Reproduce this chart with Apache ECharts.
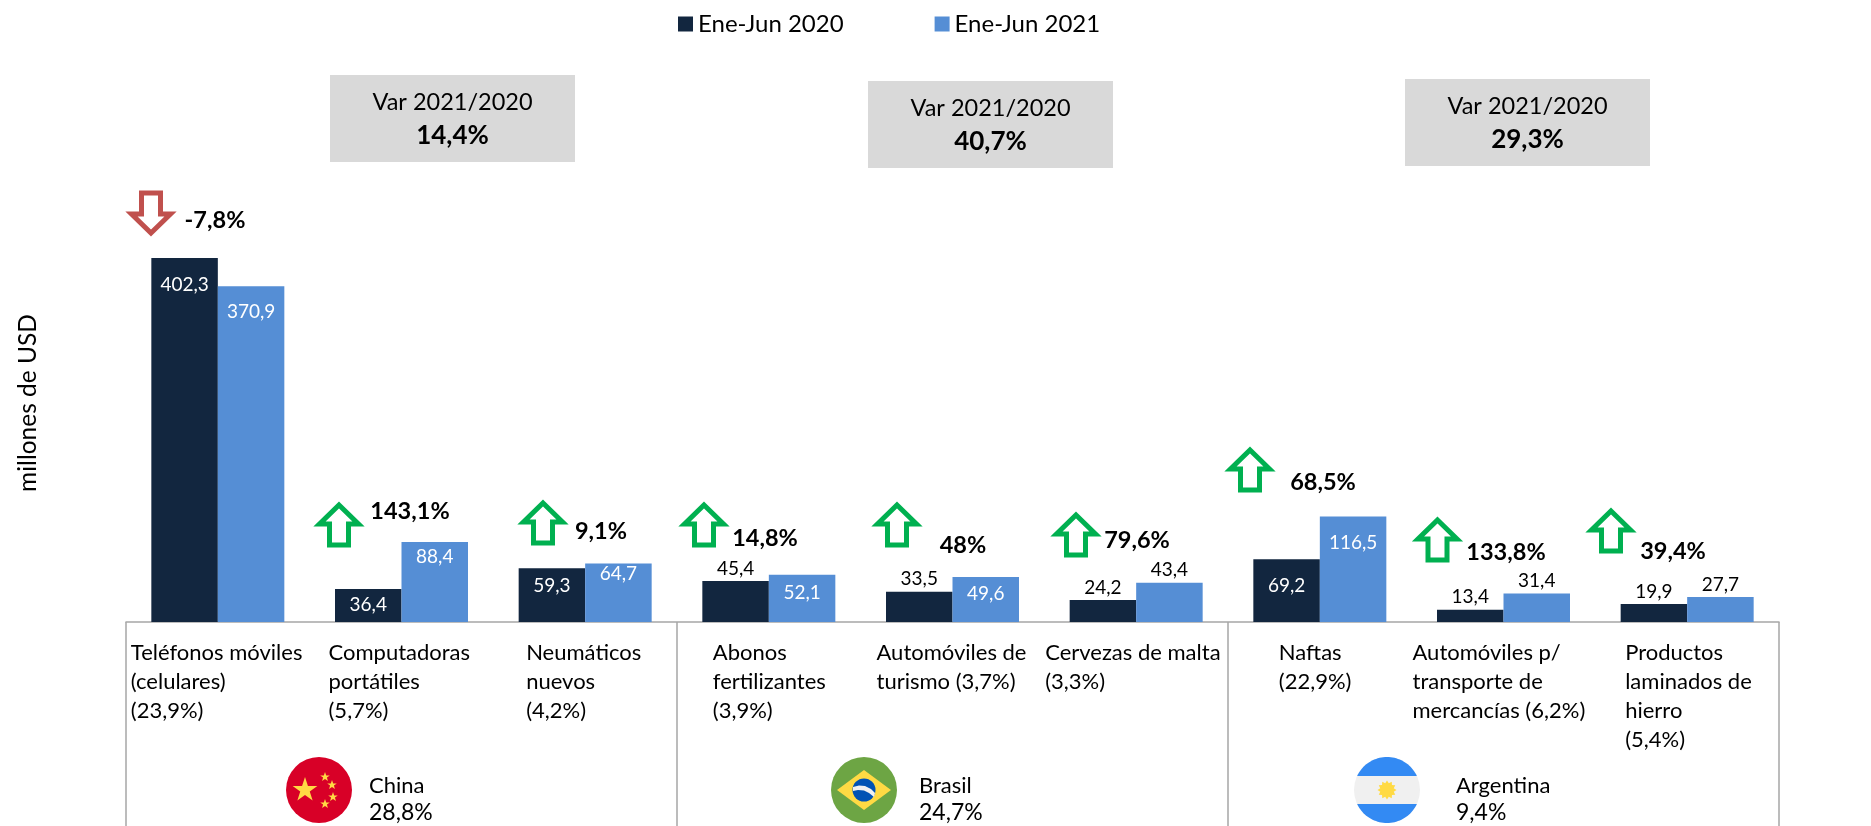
<!DOCTYPE html>
<html><head><meta charset="utf-8">
<style>html,body{margin:0;padding:0;background:#fff;overflow:hidden}#c{width:1871px;height:826px}</style>
<script src="https://cdn.jsdelivr.net/npm/echarts@6/dist/echarts.min.js"></script>
</head><body><div id="c"></div>
<script>
const categories = [
  'Teléfonos móviles\n(celulares)\n(23,9%)',
  'Computadoras\nportátiles\n(5,7%)',
  'Neumáticos\nnuevos\n(4,2%)',
  'Abonos\nfertilizantes\n(3,9%)',
  'Automóviles de\nturismo (3,7%)',
  'Cervezas de malta\n(3,3%)',
  'Naftas\n(22,9%)',
  'Automóviles p/\ntransporte de\nmercancías (6,2%)',
  'Productos\nlaminados de\nhierro\n(5,4%)'
];
const seriesNames = ['Ene-Jun 2020', 'Ene-Jun 2021'];
const values2020 = [402.3, 36.4, 59.3, 45.4, 33.5, 24.2, 69.2, 13.4, 19.9];
const values2021 = [370.9, 88.4, 64.7, 52.1, 49.6, 43.4, 116.5, 31.4, 27.7];
const variationLabels = ['-7,8%', '143,1%', '9,1%', '14,8%', '48%', '79,6%', '68,5%', '133,8%', '39,4%'];
const countries = ['China', 'Brasil', 'Argentina'];
const countryShares = ['28,8%', '24,7%', '9,4%'];
const groupVariation = ['14,4%', '40,7%', '29,3%'];

// --- layout (no data below this line) ---
const COL_DARK = '#12263F', COL_LIGHT = '#558ED5', LINE = '#A6A6A6', FONT = 'Lato';
const labelInset = [ // distance from bar top for labels inside; null = label above the bar
  [17, 6, 8, null, null, null, 17, null, null],
  [16, 5, 1, 9, 7, null, 17, null, null]
];
const catLabelShift = [87, 73, 59, 56, 76, 91, 41, 91, 62];
const arrowPos = [[151,213],[339,525],[543,523],[704,525],[897,525],[1076,535],[1250,470],[1437.5,540],[1611,531]];
const varPos = [[215,220],[410,511],[601,531],[765,538],[963,545],[1137,540],[1323,482],[1506,552],[1673,551]];
const boxPos = [[330,75],[868,81],[1405,79]];
const countryPos = [[369,786],[919,786],[1456,786]];

const fmt = v => v.toFixed(1).replace('.', ',');
const makeData = (vals, inset) => vals.map((v, i) => {
  const inside = inset[i] !== null;
  return { value: v, label: {
    position: inside ? 'insideTop' : 'top',
    distance: inside ? inset[i] : 3,
    color: inside ? '#fff' : '#000'
  }};
});

const rich = {};
catLabelShift.forEach((s, i) => { rich['c' + i] = { width: s * 2, align: 'left', fontSize: 22, lineHeight: 29, color: '#000', fontFamily: FONT }; });

function arrowPoints(cx, cy, up) {
  const w = 19.5, h = 20, hs = 9.5;
  const y = d => cy + (up ? d : -d);
  return [[cx, y(-h)], [cx + w, y(-1)], [cx + hs, y(-1)], [cx + hs, y(h)], [cx - hs, y(h)], [cx - hs, y(-1)], [cx - w, y(-1)]];
}
function starPoints(cx, cy, R, r, n) {
  const pts = [];
  for (let i = 0; i < n * 2; i++) {
    const a = -Math.PI / 2 + i * Math.PI / n, q = i % 2 ? r : R;
    pts.push([cx + q * Math.cos(a), cy + q * Math.sin(a)]);
  }
  return pts;
}
function capPoints(cx, cy, r, dy) { // circular segment beyond |dy| from the centre, sign gives top/bottom
  const a0 = Math.asin(Math.abs(dy) / r), pts = [];
  for (let i = 0; i <= 40; i++) {
    const a = a0 + (Math.PI - 2 * a0) * i / 40;
    pts.push([cx + r * Math.cos(a), cy + Math.sign(dy) * r * Math.sin(a)]);
  }
  return pts;
}
const polyEl = (points, fill, extra) => ({ type: 'polygon', shape: { points }, style: Object.assign({ fill }, extra || {}), silent: true });
const circleEl = (cx, cy, r, fill) => ({ type: 'circle', shape: { cx, cy, r }, style: { fill }, silent: true });
const textEl = (x, y, text, size, weight, align, extra) => Object.assign({ type: 'text', x, y, silent: true,
  style: { text, fontSize: size, fontWeight: weight || 'normal', fontFamily: FONT, fill: '#000', align: align || 'left', verticalAlign: 'middle' } }, extra || {});

const graphics = [];
// y axis title
graphics.push(textEl(28, 403, 'millones de USD', 24.5, 'normal', 'center', { rotation: Math.PI / 2 }));
// group variation boxes
boxPos.forEach((p, i) => {
  graphics.push({ type: 'rect', shape: { x: p[0], y: p[1], width: 245, height: 87 }, style: { fill: '#D9D9D9' }, silent: true });
  graphics.push(textEl(p[0] + 122.5, p[1] + 27, 'Var 2021/2020', 23.5, 'normal', 'center'));
  graphics.push(textEl(p[0] + 122.5, p[1] + 61, groupVariation[i], 26, 'bold', 'center'));
});
// arrows and variation labels
variationLabels.forEach((t, i) => {
  const up = !t.startsWith('-');
  graphics.push(polyEl(arrowPoints(arrowPos[i][0], arrowPos[i][1], up), '#fff', { stroke: up ? '#00B050' : '#C0504D', lineWidth: 5 }));
  graphics.push(textEl(varPos[i][0], varPos[i][1], t, 23.5, 'bold', 'center'));
});
// country labels
countries.forEach((c, i) => {
  graphics.push(textEl(countryPos[i][0], countryPos[i][1], c, 22));
  graphics.push(textEl(countryPos[i][0], countryPos[i][1] + 27, countryShares[i], 23));
});
// China flag
graphics.push(circleEl(319, 790, 33, '#D80027'));
graphics.push(polyEl(starPoints(305, 790, 13, 5, 5), '#FFDA44'));
[[325,777],[332,785],[333,797],[325,804]].forEach(p => graphics.push(polyEl(starPoints(p[0], p[1], 5, 2, 5), '#FFDA44')));
// Brasil flag
graphics.push(circleEl(864, 790, 33, '#6DA544'));
graphics.push(polyEl([[864,770],[891,790],[864,810],[837,790]], '#FFDA44'));
graphics.push(circleEl(864, 790, 11.5, '#0052B4'));
graphics.push(polyEl([[853,787],[859,785.5],[865,786],[871,789],[875,793],[874,797],[869,793],[864,790.5],[858,790],[853,791]], '#F0F0F0'));
// Argentina flag
graphics.push(circleEl(1387, 790, 33, '#F0F0F0'));
graphics.push(polyEl(capPoints(1387, 790, 33, -14), '#338AF3'));
graphics.push(polyEl(capPoints(1387, 790, 33, 14), '#338AF3'));
graphics.push(polyEl(starPoints(1387, 790, 9.5, 7, 12), '#FFDA44'));

const chart = echarts.init(document.getElementById('c'), null, { renderer: 'canvas' });
chart.setOption({
  animation: false,
  backgroundColor: '#fff',
  textStyle: { fontFamily: FONT },
  legend: {
    left: 673, top: 7, itemWidth: 15, itemHeight: 15, itemGap: 91,
    icon: 'rect',
    textStyle: { fontSize: 24, color: '#000', fontFamily: FONT },
    data: seriesNames
  },
  grid: { left: 126, right: 92, top: 79, bottom: 204 },
  xAxis: {
    type: 'category', data: categories,
    axisLine: { lineStyle: { color: LINE, width: 1.5 } },
    axisTick: { show: true, length: 204, interval: (i) => i % 3 === 0, lineStyle: { color: LINE, width: 1.5 } },
    axisLabel: {
      interval: 0, hideOverlap: false, margin: 16, align: 'center', verticalAlign: 'top',
      formatter: (v, i) => v.split('\n').map(l => `{c${i}|${l}}`).join('\n'),
      rich
    }
  },
  yAxis: { type: 'value', min: 0, max: 600, show: false, splitLine: { show: false } },
  series: [
    { name: seriesNames[0], type: 'bar', barWidth: 66.5, barGap: 0, itemStyle: { color: COL_DARK },
      label: { show: true, fontSize: 19, fontFamily: FONT, formatter: p => fmt(p.value) },
      data: makeData(values2020, labelInset[0]) },
    { name: seriesNames[1], type: 'bar', barWidth: 66.5, barGap: 0, itemStyle: { color: COL_LIGHT },
      label: { show: true, fontSize: 19, fontFamily: FONT, formatter: p => fmt(p.value) },
      data: makeData(values2021, labelInset[1]) }
  ],
  graphic: graphics
});
</script></body></html>
